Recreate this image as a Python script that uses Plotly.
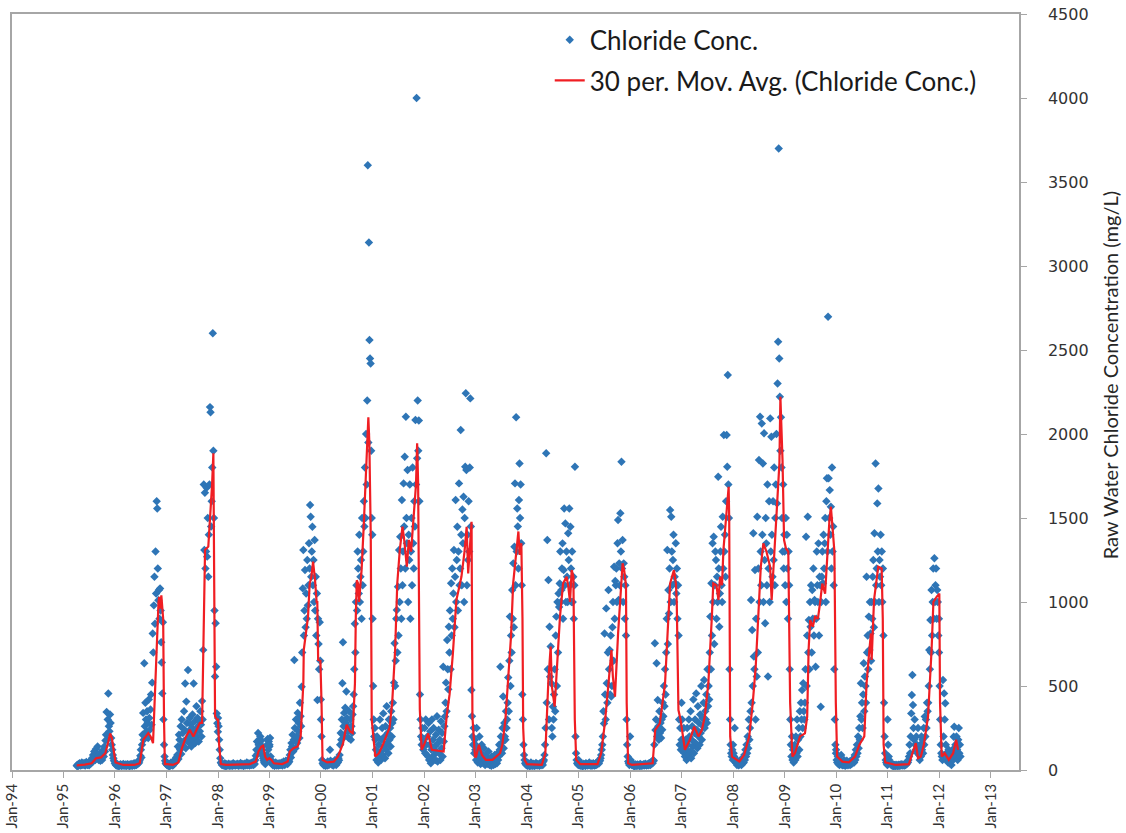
import pandas as pd
import plotly.graph_objects as go

# ---------------- scatter data (4-day sampling, mg/L) ----------------
cl_1995_start = "1995-04-05"
cl_1995 = [25,30,22,35,28,40,33,26,30,45,38,29,35,42,30,27,33,48,36,30,41,35,28,50,44,38,
           55,70,48,90,65,110,80,60,125,95,70,140,85,60,75,100,55,65,80,
           60,95,120,80,140,110,175,
           210,345,180,300,455,260,230,330,280,190,
           150,120,90,70,55]
cl_1996 = [40,35,28,30,25,33,27,22,30,26,35,29,24,31,28,36,25,30,27,33,24,29,35,26,31,28,22,34,30,27,36,25,32,29,41,26,33,38,30,45,36,52,40,48,
           60,85,120,75,150,210,340,180,635,260,400,300,230,350,
           280,190,420,310,240,360,450,270,520,813,
           700,980,1150,870,1300,1050,1600,1557,1200,1010,1072,900,1080,950,760,
           640,456,880,300,150,80,55,40,35]
cl_1997 = [35,28,40,25,30,22,33,27,45,30,38,26,50,34,42,60,48,75,55,
           90,140,65,210,180,120,260,95,300,150,220,170,350,240,515,130,407,280,190,595,230,160,310,200,270,140,250,330,180,515,220,290,160,240,380,200,310,260,170,290,230,350,270,200,410,300,
           715,1700,1310,1650,1200,1300,1680,1270,1500,1150,1400,1700,2160,2130,1450,1600,1800,2600,1900,1500,950,556,873,615,337,278,228]
cl_1998 = [310,260,180,120,70,45,38,30,35,
           28,33,25,40,30,22,35,27,31,26,38,29,24,33,30,27,36,25,41,30,28,34,26,32,29,37,31,25,35,28,30,42,27,33,29,36,24,31,38,27,34,30,45,28,33,39,30,26,41,35,29,44,32,38,30,50,36,
           60,85,120,170,95,220,150,180,130,200,110,175,90,140,70,55,45,
           40,35,60,90,150,185,120,170,140]
cl_1999 = [150,190,80,60,45,
           35,28,40,30,25,33,45,30,27,38,32,26,41,30,35,29,44,33,27,38,50,36,30,42,55,40,48,35,60,45,52,
           90,120,75,160,140,210,110,180,655,250,130,300,200,160,340,230,280,190,400,320,260,
           496,700,1081,1310,800,950,1190,850,1050,900,1250,980,1100,1350,1200,1577,1508,1150,1300,1448,
           1100,1250,1000,1369,950,1150,800,1050,417,900,750,600,880,650,420]
cl_2000 = [300,200,60,40,
           35,28,45,30,25,38,32,27,50,36,30,42,120,55,38,33,48,30,27,41,35,60,44,30,38,52,45,70,58,90,
           150,220,180,300,516,760,260,340,200,370,280,467,310,230,260,190,350,240,300,180,260,220,330,
           380,450,600,870,700,1000,1100,950,1300,1200,1050,1400,1000,1150,1250,900,1500,1100,1300,1600,
           1450,1800,1500,2000,1700,2200,3600,1950,3140,2560,2450,2420,1900,1500,1400]
cl_2001 = [900,500,300,200,250,180,
           120,60,200,90,45,150,80,300,110,60,180,250,90,337,140,198,70,260,120,380,160,220,100,300,180,250,140,350,200,280,
           400,300,520,754,500,650,900,952,700,1091,800,
           1310,1000,1389,1200,900,1607,1100,1300,1706,1450,1865,1200,2103,1500,1350,1786,1000,1400,1250,1700,
           900,1300,1500,1100,1800,1350,1200,1600,1450,2083,1700,4000,1855,2200,1900,2080,1600,
           450,300,200,150,250,180,120,160]
cl_2002 = [160,250,100,300,150,90,
           200,80,280,60,150,230,40,120,300,70,180,250,90,140,60,210,110,320,50,160,240,100,180,60,290,130,220,80,615,170,260,318,
           400,520,350,774,600,480,853,700,950,600,1111,800,1200,900,1050,1310,850,1150,1607,1000,1250,1448,950,1300,1706,1100,
           1200,2024,1400,1100,1550,1350,1627,1000,1500,1805,2242,1786,1100,1400,1250,1600,1300,1800,2212,1450,
           476,320,200,150,250,100,180,120]
cl_2003 = [150,60,250,90,45,120,80,200,60,35,100,150,50,70,40,130,60,30,90,55,40,75,35,110,50,30,65,45,25,80,40,60,30,45,90,35,55,70,40,100,60,
           80,150,120,615,200,160,100,250,437,130,280,200,180,350,250,300,
           400,550,350,650,913,500,800,700,1071,900,
           1230,850,1329,1706,1100,2100,1300,1557,1450,1200,1607,1825,1500,1700,1350,1100,
           450,300,150,90,60,40,35,30,45]
cl_2004 = [30,25,40,28,35,22,30,45,27,33,25,38,30,24,35,28,42,30,26,36,29,33,25,40,31,28,45,35,30,50,60,
           90,150,250,1885,400,1369,600,1131,300,853,555,735,516,250,200,
           377,300,450,600,350,800,913,500,1000,700,1050,
           970,1110,1300,1000,1071,1200,1349,900,1190,1557,1100,1468,1000,1300,1150,1000,1409,1250,1557,1100,1448,1200,1000,1300,1000,1150,900,1100,
           1805,200,100,60,40,35,30]
cl_2005 = [60,35,28,40,25,33,30,22,38,27,35,30,24,41,29,33,26,36,30,45,28,32,25,38,30,27,40,33,26,35,29,42,31,36,50,45,38,60,55,70,90,
           120,150,200,350,277,813,450,300,962,516,400,700,1071,600,714,450,800,437,
           500,850,1000,650,1210,900,1125,1100,1200,1000,1350,1488,1012,1230,1100,1528,1300,1835,1200,1369,1000,1230,1150,900,1100,
           800,300,150,80,50,40,30,35]
cl_2006 = [200,60,40,30,35,
           30,25,28,22,35,27,30,24,33,26,29,31,23,36,28,25,32,27,30,34,26,29,38,31,27,33,30,36,28,42,35,30,45,38,50,40,60,55,
           150,754,238,300,635,200,417,260,180,350,220,280,190,300,240,400,320,500,380,600,450,700,
           900,1310,750,1071,932,1200,1547,1000,1508,1300,1100,1250,1400,1000,1150,1111,1350,1050,1200,900,1100,800,
           300,150,250,120,180]
cl_2007 = [400,300,150,120,250,100,
           80,180,120,60,250,150,90,300,200,110,350,70,180,260,140,420,100,220,300,160,456,240,130,380,200,280,150,330,220,500,180,310,260,400,536,250,350,300,450,280,600,380,500,420,700,
           913,600,1111,800,1349,1000,1389,750,1100,1300,1250,900,1150,1000,1746,1200,853,1050,1300,1448,1100,1000,1508,1200,1994,1300,1400,1150,1600,1994,
           1805,2351,1700,1500,600,300,150,100,80,120,60]
cl_2008 = [150,100,80,250,60,45,
           40,30,55,35,28,45,33,60,40,30,50,38,70,45,90,60,120,80,150,100,200,130,300,180,250,
           350,1012,400,833,500,1409,675,600,1190,300,900,556,1508,700,
           1200,1845,1000,2103,1300,1100,2063,1400,1825,1000,2004,1250,873,1500,1349,1100,1700,556,1200,1600,1000,2093,1300,1984,1400,1150,1600,1250,1800,1100,1500,
           1700,2000,1587,2300,2549,3700,2450,2222,1900,2100,1800,1500,1300,1700,1200,1400]
cl_2009 = [1300,1100,1500,1000,1400,1200,900,1300,1100,600,
           300,150,80,200,60,120,45,90,150,60,200,100,300,80,180,250,120,350,200,400,300,476,250,516,350,300,
           400,600,1389,500,800,1508,700,893,600,1000,853,1100,700,1071,900,1200,800,1012,1000,615,900,1300,1100,1000,1349,800,1150,1100,377,
           1000,1150,1300,1111,1400,1200,1349,1500,1000,1600,1736,1300,2698,1736,1500,1666,1400,1567,1200,1800,1300,1450,1100,
           600,300,150,100]
cl_2010 = [120,60,45,80,35,50,30,60,40,90,35,28,45,30,60,38,25,42,30,55,35,28,40,33,50,30,45,36,60,40,55,70,45,90,60,120,80,150,100,200,130,
           250,180,320,516,300,400,250,450,635,350,556,500,400,1150,700,800,600,913,714,1000,813,650,1000,900,1150,
           1250,850,1409,1000,1825,1100,1200,1587,1300,1676,1000,1250,1150,1400,1100,1300,1000,1200,800,
           400,200,100,60,45,35,30]
cl_2011 = [300,150,80,60,45,40,
           35,28,30,25,33,22,30,27,24,31,26,29,23,28,32,25,30,27,35,29,26,33,28,31,27,36,30,40,35,50,45,60,80,150,100,200,337,446,565,387,250,180,300,150,120,
           200,150,100,250,120,90,60,150,80,200,120,180,100,250,150,318,200,300,250,400,350,
           400,500,714,600,893,700,1071,800,1000,1200,900,1260,1000,1100,1200,900,1071,1000,800,900]
cl_2012 = [700,500,300,150,100,80,60,536,200,456,300,397,150,100,60,80,45,120,60,40,
           90,50,30,70,120,60,198,258,100,150,80,200,120,60,180,250,100,150,80]

# ---------------- 30 per. moving average ----------------
ma_dates = [
    "1995-04-05","1995-06-01","1995-07-20","1995-08-20","1995-09-25","1995-10-25","1995-11-15","1995-11-28","1995-12-10","1995-12-25",
    "1996-01-05","1996-03-01","1996-05-15","1996-06-25","1996-07-10","1996-07-20","1996-08-25","1996-09-10","1996-09-27","1996-10-11",
    "1996-10-25","1996-11-05","1996-11-10","1996-11-18","1996-11-25","1996-12-01","1996-12-08","1996-12-14","1996-12-20",
    "1997-01-05","1997-02-15","1997-03-25","1997-04-20","1997-05-20","1997-06-15","1997-07-10","1997-08-05","1997-08-25","1997-09-10",
    "1997-09-18","1997-10-01","1997-10-24","1997-11-10","1997-11-20","1997-11-29","1997-12-03","1997-12-11","1997-12-25",
    "1998-01-01","1998-01-08","1998-01-21","1998-03-01","1998-06-01","1998-08-15","1998-09-25","1998-10-15","1998-11-05","1998-11-17",
    "1998-12-01","1998-12-15","1998-12-31",
    "1999-01-15","1999-02-01","1999-04-01","1999-05-10","1999-05-25","1999-06-20","1999-07-20","1999-08-10","1999-08-29","1999-09-01",
    "1999-10-01","1999-10-13","1999-10-25","1999-11-06","1999-11-20","1999-12-01","1999-12-06","1999-12-12","1999-12-28",
    "2000-01-05","2000-01-12","2000-02-15","2000-04-01","2000-05-01","2000-06-06","2000-07-01","2000-07-25","2000-08-13","2000-08-29",
    "2000-09-04","2000-09-11","2000-09-20","2000-09-27","2000-10-04","2000-10-15","2000-10-30","2000-11-15","2000-12-02","2000-12-09",
    "2000-12-19","2000-12-26",
    "2001-01-07","2001-01-20","2001-02-15","2001-03-15","2001-04-15","2001-05-01","2001-05-20","2001-06-10","2001-06-25","2001-07-13",
    "2001-08-01","2001-08-12","2001-09-01","2001-09-15","2001-10-01","2001-10-20","2001-11-05","2001-11-13","2001-11-20","2001-12-02",
    "2001-12-15",
    "2002-01-01","2002-01-30","2002-02-25","2002-05-20","2002-06-10","2002-07-01","2002-07-25","2002-08-18","2002-09-23","2002-10-15",
    "2002-10-30","2002-11-10","2002-12-04","2002-12-10","2002-12-28",
    "2003-01-05","2003-01-25","2003-02-15","2003-03-15","2003-05-01","2003-06-24","2003-07-10","2003-08-01","2003-08-20","2003-09-10",
    "2003-09-25","2003-10-15","2003-10-25","2003-11-01","2003-11-10","2003-11-22","2003-11-30","2003-12-05","2003-12-15",
    "2004-01-01","2004-04-15","2004-05-10","2004-05-20","2004-06-01","2004-06-17","2004-06-25","2004-07-15","2004-08-01","2004-08-22",
    "2004-09-13","2004-10-08","2004-10-20","2004-11-01","2004-11-13","2004-11-25","2004-12-05","2004-12-15",
    "2005-01-12","2005-05-15","2005-06-10","2005-07-06","2005-08-01","2005-08-22","2005-09-01","2005-09-16","2005-10-08","2005-10-22",
    "2005-11-09","2005-11-20","2005-12-03","2005-12-08","2005-12-18",
    "2006-01-15","2006-06-10","2006-06-28","2006-07-31","2006-09-06","2006-09-25","2006-10-12","2006-11-08","2006-11-22","2006-11-28",
    "2006-12-10","2006-12-25",
    "2007-01-10","2007-01-25","2007-03-01","2007-04-01","2007-05-01","2007-05-25","2007-06-15","2007-07-10","2007-08-04","2007-08-14",
    "2007-09-05","2007-09-20","2007-10-01","2007-10-15","2007-10-25","2007-12-01","2007-12-05","2007-12-12","2007-12-25",
    "2008-02-15","2008-03-20","2008-04-25","2008-05-20","2008-06-10","2008-07-16","2008-08-03","2008-08-25","2008-09-20","2008-10-01",
    "2008-10-25","2008-11-10","2008-11-25","2008-12-02","2008-12-08","2008-12-17","2008-12-28",
    "2009-01-10","2009-01-27","2009-02-09","2009-02-25","2009-03-15","2009-04-20","2009-05-25","2009-06-10","2009-06-20","2009-07-01",
    "2009-07-20","2009-08-05","2009-08-25","2009-09-10","2009-09-25","2009-10-15","2009-11-01","2009-11-15","2009-11-25","2009-12-05",
    "2009-12-20","2009-12-30",
    "2010-01-08","2010-02-15","2010-04-01","2010-05-15","2010-06-15","2010-07-20","2010-08-05","2010-08-25","2010-09-05","2010-09-10",
    "2010-09-27","2010-10-27","2010-11-20","2010-11-28","2010-12-04","2010-12-15",
    "2011-03-01","2011-06-01","2011-06-25","2011-07-20","2011-08-05","2011-08-25","2011-09-15","2011-10-15","2011-11-09","2011-11-22",
    "2011-12-16","2012-01-03",
    "2012-01-08","2012-01-20","2012-02-10","2012-03-10","2012-04-10","2012-05-01","2012-05-15",
]
ma_values = [
    28,32,40,70,75,100,170,218,190,110,
    45,30,30,40,110,180,220,200,160,476,
    850,1000,1030,960,1040,970,900,300,35,
    35,30,45,130,200,240,200,250,280,280,
    715,1310,1330,1550,1700,1885,1500,320,300,
    300,160,35,30,32,35,50,110,140,145,
    80,60,70,
    60,40,35,50,110,130,140,200,516,714,
    910,1110,1150,1240,1130,1000,1000,655,650,
    400,60,45,50,80,160,270,230,220,516,
    910,1130,1110,1000,1070,1190,1450,1800,2100,1950,
    1400,300,
    170,80,100,150,218,250,400,714,1110,1310,
    1448,1380,1210,1370,1300,1490,1700,1945,1706,360,
    120,
    150,218,120,110,318,450,700,1010,1150,1300,
    1448,1170,1478,318,80,
    80,150,90,60,60,100,150,300,516,800,
    1111,1300,1400,1420,1280,1350,900,250,60,
    35,30,100,300,540,735,500,377,600,913,
    1111,1150,1090,1000,1190,1150,300,60,
    35,35,100,277,516,714,556,437,813,1012,
    1230,1190,1100,400,40,
    30,40,238,277,516,800,1111,1190,1111,1000,
    357,300,
    200,120,180,258,200,238,318,516,913,1111,
    1100,1012,1150,1100,1310,1686,1500,200,80,
    50,90,200,400,615,1210,1349,1300,1210,1012,
    1349,1587,1825,2222,2100,1845,1369,
    1320,1300,400,80,100,200,218,318,714,893,
    853,913,900,1000,1110,1050,1300,1490,1567,1450,
    1300,400,
    80,50,45,80,150,200,516,714,813,655,
    1012,1210,1200,900,150,45,
    30,35,100,160,70,80,150,318,714,1000,
    1032,1050,
    400,80,100,60,100,180,120,
]

y_title = "Raw Water Chloride Concentration (mg/L)"

# ---------------- assemble ----------------
year_lists = [(cl_1995_start, cl_1995)] + [
    (f"{y}-01-01", v) for y, v in [
        (1996, cl_1996), (1997, cl_1997), (1998, cl_1998), (1999, cl_1999), (2000, cl_2000),
        (2001, cl_2001), (2002, cl_2002), (2003, cl_2003), (2004, cl_2004), (2005, cl_2005),
        (2006, cl_2006), (2007, cl_2007), (2008, cl_2008), (2009, cl_2009), (2010, cl_2010),
        (2011, cl_2011), (2012, cl_2012)]
]
cl_dates, cl_vals = [], []
for start, vals in year_lists:
    cl_dates += list(pd.date_range(start, periods=len(vals), freq="4D"))
    cl_vals += vals

BLUE = "#2E75B6"
RED = "#F01E23"
GREY = "#A6A6A6"
TXT = "#333333"

fig = go.Figure()
fig.add_trace(go.Scatter(
    x=cl_dates, y=cl_vals, mode="markers", name="Chloride Conc.",
    marker=dict(symbol="diamond", size=6.5, color=BLUE, line=dict(width=0)),
    legendgroup="a",
))
fig.add_trace(go.Scatter(
    x=pd.to_datetime(ma_dates), y=ma_values, mode="lines",
    name="30 per. Mov. Avg. (Chloride Conc.)",
    line=dict(color=RED, width=2.2),
    legendgroup="b",
))

fig.update_layout(
    width=1126, height=833,
    margin=dict(l=12, r=107, t=14, b=63),
    paper_bgcolor="white", plot_bgcolor="white",
    showlegend=True,
    legend=dict(x=0.534, y=0.997, xanchor="left", yanchor="top",
                font=dict(family="Lato", size=26, color="#1a1a1a"),
                bgcolor="rgba(0,0,0,0)", tracegroupgap=4, itemwidth=30),
    font=dict(family="Lato", color=TXT),
    annotations=[dict(
        text=y_title, xref="paper", yref="paper",
        x=1.0903, y=0.522, xanchor="center", yanchor="middle",
        textangle=-90, showarrow=False,
        font=dict(family="Lato", size=20, color="#262626"),
    )],
)
fig.update_xaxes(
    type="date", range=["1994-01-01", "2013-07-21"],
    tick0="1994-01-01", dtick="M12", tickformat="%b-%y", tickangle=-90,
    ticks="outside", ticklen=6, tickcolor=GREY,
    showline=True, linecolor=GREY, linewidth=1.5, mirror=True,
    showgrid=False, zeroline=False, automargin=False,
    tickfont=dict(family="Lato", size=15, color=TXT),
)
fig.update_yaxes(
    side="right", range=[0, 4500], dtick=500,
    ticks="outside", ticklen=6, tickcolor=GREY,
    showline=True, linecolor=GREY, linewidth=1.5, mirror=True,
    showgrid=False, zeroline=False, automargin=False,
    tickfont=dict(family="DejaVu Sans", size=16, color=TXT),
    ticklabelstandoff=18,
)

fig.write_html("out.html")
